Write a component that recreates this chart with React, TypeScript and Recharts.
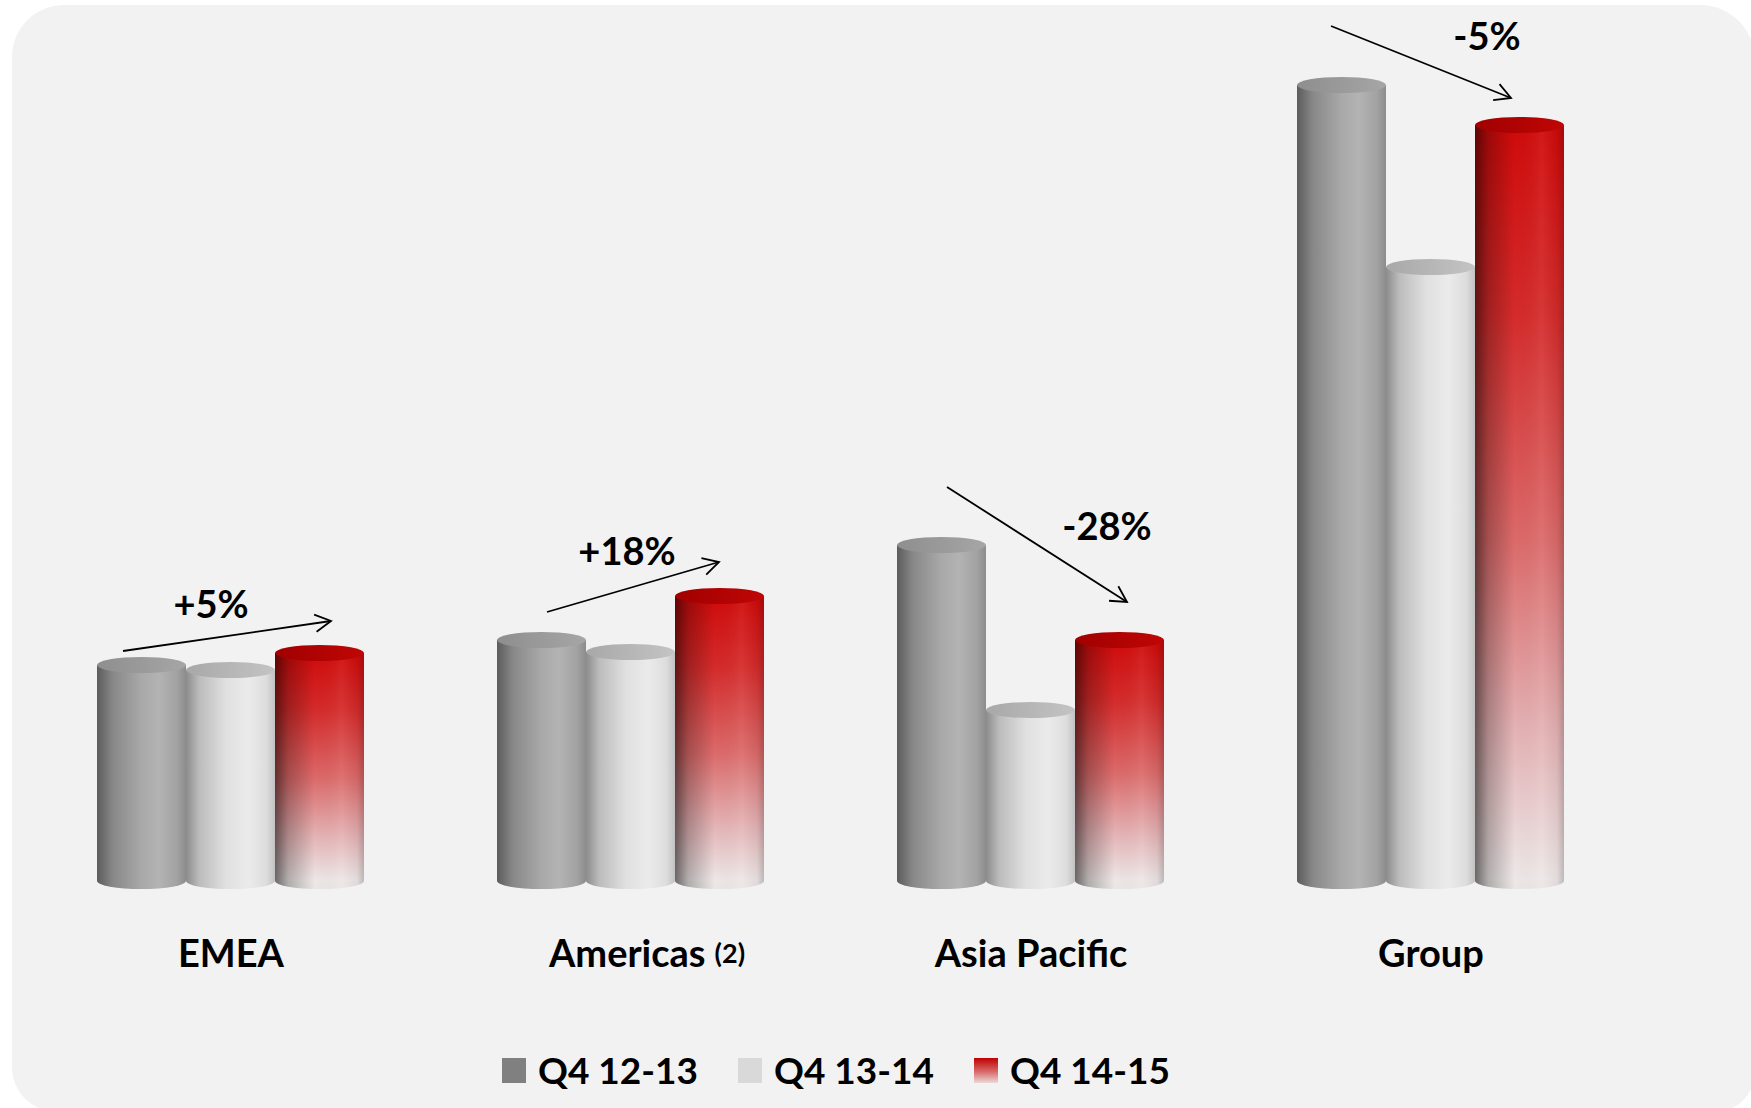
import React from "react";
import { BarChart, Bar, XAxis, YAxis, Legend, ReferenceLine, ReferenceDot } from "recharts";

const regions = ["EMEA", "Americas", "Asia Pacific", "Group"];
const regionNotes: Record<string, string> = { Americas: "(2)" };
const regionSlots = [0.5, 1.5, 2.5, 3.5];

const q4_12_13 = [216, 241, 336, 796];
const q4_13_14 = [211, 229, 171, 614];
const q4_14_15 = [228, 285, 241, 756];

const seriesNames = ["Q4 12-13", "Q4 13-14", "Q4 14-15"];

// change arrows, x in region units (0..4), y in value units
const arrowFrom = [
  [0.23, 230],
  [1.29, 269],
  [2.29, 394],
  [3.25, 855],
];
const arrowTo = [
  [0.75, 260],
  [1.72, 319],
  [2.74, 279],
  [3.7, 783],
];
const changeLabels = ["+5%", "+18%", "-28%", "-5%"];
const changeLabelPos = [
  [0.45, 263],
  [1.49, 316],
  [2.69, 341],
  [3.64, 831],
];

const FONT = "Lato, 'Open Sans', sans-serif";

const data = regions.map((region, i) => ({
  region,
  slot: regionSlots[i],
  q1213: q4_12_13[i],
  q1314: q4_13_14[i],
  q1415: q4_14_15[i],
}));

const swatches: Record<string, string> = {
  q1213: "#808080",
  q1314: "#d9d9d9",
  q1415: "linear-gradient(to bottom, #c00000, #d86a6a 55%, #eadada)",
};

function makeCylinder(id: string) {
  return function Cylinder(props: any) {
    const { x, y, width, height } = props;
    if (width == null || height == null) return null;
    const rx = width / 2;
    const ry = 8;
    const cx = x + rx;
    const isRed = id === "red";
    return (
      <g>
        <ellipse cx={cx} cy={y + height} rx={rx} ry={ry} fill={isRed ? "#ece6e6" : `url(#${id}-side)`} />
        {isRed && <ellipse cx={cx} cy={y + height} rx={rx} ry={ry} fill="url(#red-shade)" />}
        <rect x={x} y={y} width={width} height={height} fill={isRed ? "url(#red-fade)" : `url(#${id}-side)`} />
        {isRed && <rect x={x} y={y} width={width} height={height} fill="url(#red-shade)" />}
        <ellipse cx={cx} cy={y} rx={rx} ry={ry} fill={`url(#${id}-top)`} />
      </g>
    );
  };
}

const GrayCylinder = makeCylinder("gray");
const LightCylinder = makeCylinder("light");
const RedCylinder = makeCylinder("red");

function Arrow(props: any) {
  const { x1, y1, x2, y2 } = props;
  const ang = Math.atan2(y2 - y1, x2 - x1);
  const len = 18;
  const spread = 0.5;
  const a = [x2 - len * Math.cos(ang - spread), y2 - len * Math.sin(ang - spread)];
  const b = [x2 - len * Math.cos(ang + spread), y2 - len * Math.sin(ang + spread)];
  return (
    <g stroke="#000" strokeWidth={1.8} fill="none">
      <line x1={x1} y1={y1} x2={x2} y2={y2} />
      <polyline points={`${a[0]},${a[1]} ${x2},${y2} ${b[0]},${b[1]}`} />
    </g>
  );
}

function ChangeText(text: string) {
  return function Label(props: any) {
    return (
      <text x={props.cx} y={props.cy} textAnchor="middle" fontFamily={FONT} fontWeight={700} fontSize={38} fill="#000">
        {text}
      </text>
    );
  };
}

function RegionTick({ x, y, payload }: any) {
  const note = regionNotes[payload.value];
  return (
    <text x={x + (note ? 16 : 0)} y={y + 86} textAnchor="middle" fontFamily={FONT} fontWeight={700} fontSize={38} fill="#000">
      {payload.value}
      {note && (
        <tspan fontSize={27} dx={9} dy={-4}>
          {note}
        </tspan>
      )}
    </text>
  );
}

function LegendContent({ payload }: any) {
  const items = payload || [];
  return (
    <div style={{ display: "flex", justifyContent: "center", alignItems: "center", height: 40 }}>
      {items.map((p: any, i: number) => (
        <div key={p.dataKey} style={{ display: "flex", alignItems: "center", marginRight: i < items.length - 1 ? 40 : 0 }}>
          <span style={{ width: 24, height: 25, background: swatches[p.dataKey], marginRight: 12, display: "inline-block" }} />
          <span style={{ fontFamily: FONT, fontWeight: 700, fontSize: 37, color: "#000", lineHeight: "40px" }}>{p.value}</span>
        </div>
      ))}
    </div>
  );
}

export default function App() {
  return (
    <div style={{ position: "absolute", left: 0, top: 0, width: 1751, height: 1108, background: "#fff", fontFamily: FONT, overflow: "hidden" }}>
      <div
        style={{
          position: "absolute",
          left: 12,
          top: 5,
          right: -4,
          bottom: -4,
          background: "#f2f2f2",
          borderRadius: "52px 55px 40px 45px",
        }}
      />
      <div style={{ position: "absolute", left: 0, top: 0 }}>
        <BarChart
          width={1751}
          height={1108}
          data={data}
          margin={{ top: 1, right: 120, left: 31, bottom: 127 }}
          barCategoryGap={66}
          barGap={0}
        >
          <defs>
            <linearGradient id="gray-side" x1="0" y1="0" x2="1" y2="0">
              <stop offset="0%" stopColor="#5c5c5c" />
              <stop offset="18%" stopColor="#888888" />
              <stop offset="50%" stopColor="#a9a9a9" />
              <stop offset="70%" stopColor="#b3b3b3" />
              <stop offset="90%" stopColor="#a2a2a2" />
              <stop offset="100%" stopColor="#8c8c8c" />
            </linearGradient>
            <linearGradient id="gray-top" x1="0" y1="0" x2="1" y2="0">
              <stop offset="0%" stopColor="#8e8e8e" />
              <stop offset="100%" stopColor="#a6a6a6" />
            </linearGradient>
            <linearGradient id="light-side" x1="0" y1="0" x2="1" y2="0">
              <stop offset="0%" stopColor="#8c8c8c" />
              <stop offset="15%" stopColor="#bcbcbc" />
              <stop offset="45%" stopColor="#e0e0e0" />
              <stop offset="70%" stopColor="#ebebeb" />
              <stop offset="90%" stopColor="#dddddd" />
              <stop offset="100%" stopColor="#c2c2c2" />
            </linearGradient>
            <linearGradient id="light-top" x1="0" y1="0" x2="1" y2="0">
              <stop offset="0%" stopColor="#a8a8a8" />
              <stop offset="100%" stopColor="#c4c4c4" />
            </linearGradient>
            <linearGradient id="red-fade" x1="0" y1="0" x2="0" y2="1">
              <stop offset="0%" stopColor="#d00a0a" />
              <stop offset="25%" stopColor="#d52b2b" />
              <stop offset="55%" stopColor="#dc6a6a" />
              <stop offset="80%" stopColor="#e4b2b4" />
              <stop offset="100%" stopColor="#eee8e8" />
            </linearGradient>
            <linearGradient id="red-shade" x1="0" y1="0" x2="1" y2="0">
              <stop offset="0%" stopColor="#000" stopOpacity={0.55} />
              <stop offset="15%" stopColor="#000" stopOpacity={0.25} />
              <stop offset="45%" stopColor="#000" stopOpacity={0} />
              <stop offset="75%" stopColor="#fff" stopOpacity={0.06} />
              <stop offset="92%" stopColor="#000" stopOpacity={0.05} />
              <stop offset="100%" stopColor="#000" stopOpacity={0.2} />
            </linearGradient>
            <linearGradient id="red-top" x1="0" y1="0" x2="1" y2="0">
              <stop offset="0%" stopColor="#a00000" />
              <stop offset="100%" stopColor="#c00606" />
            </linearGradient>
          </defs>
          <XAxis
            xAxisId="cat"
            dataKey="region"
            height={100}
            axisLine={false}
            tickLine={false}
            tickSize={0}
            tickMargin={0}
            interval={0}
            tick={<RegionTick />}
          />
          <XAxis xAxisId="pos" dataKey="slot" type="number" domain={[0, 4]} allowDataOverflow hide />
          <YAxis domain={[0, 880]} hide />
          <Legend
            verticalAlign="middle"
            align="center"
            layout="horizontal"
            wrapperStyle={{ top: 1050, left: 31, width: 1610, height: 40 }}
            content={<LegendContent />}
          />
          <Bar xAxisId="cat" dataKey="q1213" name={seriesNames[0]} fill="#808080" shape={GrayCylinder} isAnimationActive={false} />
          <Bar xAxisId="cat" dataKey="q1314" name={seriesNames[1]} fill="#d9d9d9" shape={LightCylinder} isAnimationActive={false} />
          <Bar xAxisId="cat" dataKey="q1415" name={seriesNames[2]} fill="#c00000" shape={RedCylinder} isAnimationActive={false} />
          {arrowFrom.map((from, i) => (
            <ReferenceLine
              key={`arrow-${i}`}
              xAxisId="pos"
              segment={[
                { x: from[0], y: from[1] },
                { x: arrowTo[i][0], y: arrowTo[i][1] },
              ]}
              ifOverflow="visible"
              shape={Arrow}
            />
          ))}
          {changeLabels.map((text, i) => (
            <ReferenceDot
              key={`change-${i}`}
              xAxisId="pos"
              x={changeLabelPos[i][0]}
              y={changeLabelPos[i][1]}
              r={1}
              ifOverflow="visible"
              shape={ChangeText(text)}
            />
          ))}
        </BarChart>
      </div>
    </div>
  );
}
